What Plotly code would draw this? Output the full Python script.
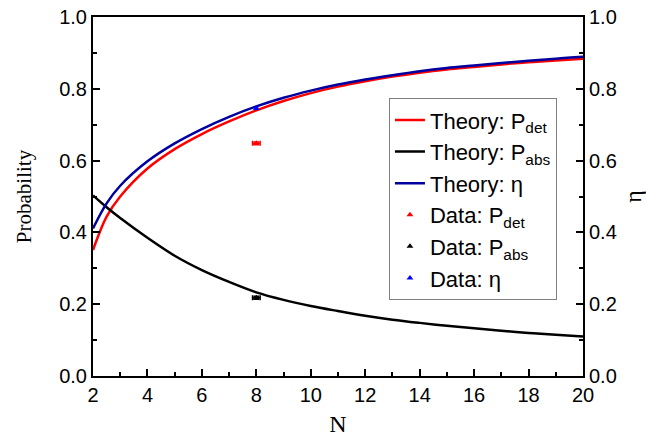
import plotly.graph_objects as go

# Theory curves
N = [2, 2.5, 3, 4, 5, 6, 7, 8, 9, 10, 11, 12, 13, 14, 15, 16, 17, 18, 19, 20]
P_det = [0.351, 0.444, 0.500, 0.578, 0.632, 0.674, 0.709, 0.740, 0.766, 0.788,
         0.806, 0.821, 0.834, 0.845, 0.854, 0.861, 0.868, 0.874, 0.879, 0.884]
P_abs = [0.503, 0.470, 0.440, 0.385, 0.335, 0.295, 0.262, 0.233, 0.212, 0.195,
         0.181, 0.168, 0.157, 0.148, 0.140, 0.133, 0.126, 0.120, 0.115, 0.110]
eta = [0.411, 0.481, 0.530, 0.598, 0.648, 0.688, 0.722, 0.751, 0.775, 0.795,
       0.812, 0.826, 0.838, 0.849, 0.858, 0.865, 0.872, 0.878, 0.884, 0.889]

# Measured data
data_N = [8]
data_det = [0.648]
data_det_err = [0.004]
data_abs = [0.218]
data_abs_err = [0.004]
data_eta = [0.745]
data_eta_err = [0.003]
data_N_err = [0.14]

fig = go.Figure()
lw = 2.5
fig.add_trace(go.Scatter(x=N, y=P_det, mode="lines", line=dict(color="#FF0000", width=lw, shape="spline"),
                         name="Theory: P<sub>det</sub>"))
fig.add_trace(go.Scatter(x=N, y=P_abs, mode="lines", line=dict(color="#000000", width=lw, shape="spline"),
                         name="Theory: P<sub>abs</sub>"))
fig.add_trace(go.Scatter(x=N, y=eta, mode="lines", line=dict(color="#0000A0", width=lw, shape="spline"),
                         name="Theory: η"))
fig.add_trace(go.Scatter(x=data_N, y=data_det, mode="markers",
                         marker=dict(symbol="triangle-up", size=6, color="#FF0000"),
                         error_y=dict(type="data", array=data_det_err, color="#FF0000", thickness=1.5, width=3),
                         error_x=dict(type="data", array=data_N_err, color="#FF0000", thickness=1.5, width=2.5),
                         name="Data: P<sub>det</sub>"))
fig.add_trace(go.Scatter(x=data_N, y=data_abs, mode="markers",
                         marker=dict(symbol="triangle-up", size=6, color="#000000"),
                         error_y=dict(type="data", array=data_abs_err, color="#000000", thickness=1.5, width=3),
                         error_x=dict(type="data", array=data_N_err, color="#000000", thickness=1.5, width=2.5),
                         name="Data: P<sub>abs</sub>"))
fig.add_trace(go.Scatter(x=data_N, y=data_eta, mode="markers",
                         marker=dict(symbol="triangle-up", size=6, color="#0000FF"),
                         error_y=dict(type="data", array=data_eta_err, color="#0000FF", thickness=1, width=2),
                         name="Data: η"))
# invisible trace to activate right axis
fig.add_trace(go.Scatter(x=N, y=eta, mode="lines", line=dict(width=0), yaxis="y2",
                         showlegend=False, hoverinfo="skip", opacity=0))

tickfont = dict(family="Liberation Sans, Arial", size=20, color="#000")
fig.update_layout(
    width=646, height=437,
    margin=dict(l=93, r=63, t=17, b=61),
    paper_bgcolor="white", plot_bgcolor="white",
    showlegend=True,
    legend=dict(x=0.604, y=0.774, xanchor="left", yanchor="top",
                bgcolor="white", bordercolor="#808080", borderwidth=1,
                font=dict(family="Liberation Sans, Arial", size=22, color="#000"),
                tracegroupgap=0),
    xaxis=dict(range=[2, 20], tickvals=[2, 4, 6, 8, 10, 12, 14, 16, 18, 20],
               ticks="inside", ticklen=7, tickwidth=1.5, tickcolor="#000",
               minor=dict(ticks="inside", ticklen=4, tickwidth=1.5, tickcolor="#000", dtick=1, tick0=1),
               showline=True, linecolor="#000", linewidth=2, mirror=True,
               showgrid=False, zeroline=False, tickfont=tickfont, automargin=False,
               title=dict(text="N", font=dict(family="Liberation Serif, Times New Roman", size=24, color="#000"),
                          standoff=10)),
    yaxis=dict(range=[0, 1], tickvals=[0, 0.2, 0.4, 0.6, 0.8, 1.0], tickformat=".1f",
               ticks="inside", ticklen=7, tickwidth=1.5, tickcolor="#000",
               minor=dict(ticks="inside", ticklen=4, tickwidth=1.5, tickcolor="#000", dtick=0.1, tick0=0),
               showline=True, linecolor="#000", linewidth=2,
               showgrid=False, zeroline=False, tickfont=tickfont, automargin=False,
               title=dict(text="Probability", font=dict(family="Liberation Serif, Times New Roman", size=21, color="#000"),
                          standoff=22)),
    yaxis2=dict(range=[0, 1], tickvals=[0, 0.2, 0.4, 0.6, 0.8, 1.0], tickformat=".1f",
                overlaying="y", side="right",
                ticks="inside", ticklen=7, tickwidth=1.5, tickcolor="#000",
                minor=dict(ticks="inside", ticklen=4, tickwidth=1.5, tickcolor="#000", dtick=0.1, tick0=0),
                showline=True, linecolor="#000", linewidth=2,
                showgrid=False, zeroline=False, tickfont=tickfont, automargin=False,
                title=dict(text="η", font=dict(family="Liberation Serif, Times New Roman", size=24, color="#000"),
                           standoff=10)),
)

fig.write_html("out.html")
